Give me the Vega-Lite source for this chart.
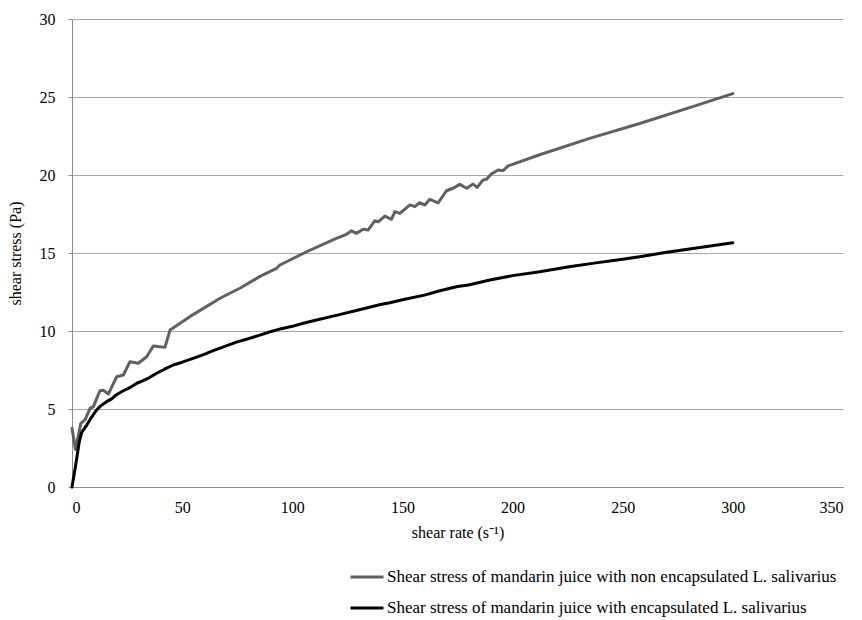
{
  "$schema": "https://vega.github.io/schema/vega-lite/v6.json",
  "autosize": "none",
  "width": 771,
  "height": 468,
  "padding": {"left": 72, "top": 19, "right": 19, "bottom": 133},
  "background": "white",
  "config": {
    "font": "Liberation Serif",
    "view": {"stroke": null},
    "axis": {"labelFont": "Liberation Serif", "titleFont": "Liberation Serif"},
    "legend": {"labelFont": "Liberation Serif", "titleFont": "Liberation Serif"}
  },
  "datasets": {
    "gray": [
      {"x": 0, "y": 3.76}, {"x": 1.6, "y": 2.4}, {"x": 4, "y": 4.08}, {"x": 5.9, "y": 4.3},
      {"x": 8.2, "y": 5.04}, {"x": 9.7, "y": 5.15}, {"x": 12.7, "y": 6.17}, {"x": 14.2, "y": 6.2},
      {"x": 16.5, "y": 5.96}, {"x": 20.3, "y": 7.07}, {"x": 23.3, "y": 7.18}, {"x": 26.3, "y": 8.03},
      {"x": 30.1, "y": 7.93}, {"x": 33.9, "y": 8.35}, {"x": 36.9, "y": 9.04}, {"x": 42.2, "y": 8.95},
      {"x": 44.5, "y": 10.06}, {"x": 55, "y": 11.05}, {"x": 67.2, "y": 12.1}, {"x": 76.2, "y": 12.74},
      {"x": 85.3, "y": 13.5}, {"x": 92.9, "y": 14.02}, {"x": 94.4, "y": 14.23}, {"x": 106.5, "y": 15.08},
      {"x": 120, "y": 15.94}, {"x": 124.6, "y": 16.2}, {"x": 126.9, "y": 16.43}, {"x": 129.1, "y": 16.26},
      {"x": 132.2, "y": 16.52}, {"x": 134.4, "y": 16.47}, {"x": 137.5, "y": 17.07}, {"x": 139, "y": 17.0},
      {"x": 142, "y": 17.37}, {"x": 145, "y": 17.16}, {"x": 146.6, "y": 17.65}, {"x": 148.8, "y": 17.54},
      {"x": 153.4, "y": 18.08}, {"x": 155.6, "y": 17.97}, {"x": 157.9, "y": 18.22}, {"x": 160.2, "y": 18.08},
      {"x": 162.4, "y": 18.44}, {"x": 166.2, "y": 18.22}, {"x": 170, "y": 18.99}, {"x": 173, "y": 19.15},
      {"x": 176, "y": 19.4}, {"x": 179.1, "y": 19.15}, {"x": 182.1, "y": 19.42}, {"x": 183.9, "y": 19.21},
      {"x": 186.6, "y": 19.68}, {"x": 188.1, "y": 19.72}, {"x": 190.4, "y": 20.06}, {"x": 193.4, "y": 20.32},
      {"x": 195.7, "y": 20.28}, {"x": 198, "y": 20.58}, {"x": 212.3, "y": 21.3}, {"x": 235, "y": 22.35},
      {"x": 257.7, "y": 23.3}, {"x": 280, "y": 24.3}, {"x": 300, "y": 25.22}
    ],
    "black": [
      {"x": 0, "y": 0}, {"x": 1.8, "y": 1.52}, {"x": 3.3, "y": 2.9}, {"x": 4.4, "y": 3.5},
      {"x": 6.7, "y": 3.97}, {"x": 9, "y": 4.5}, {"x": 11.2, "y": 4.94}, {"x": 13, "y": 5.2},
      {"x": 15.7, "y": 5.47}, {"x": 18, "y": 5.65}, {"x": 20, "y": 5.9}, {"x": 23.3, "y": 6.17},
      {"x": 26, "y": 6.35}, {"x": 29.4, "y": 6.65}, {"x": 32, "y": 6.8}, {"x": 35, "y": 7.0},
      {"x": 38.4, "y": 7.29}, {"x": 42, "y": 7.55}, {"x": 46, "y": 7.82}, {"x": 50, "y": 8.0},
      {"x": 55, "y": 8.25}, {"x": 60, "y": 8.5}, {"x": 64.1, "y": 8.74}, {"x": 70, "y": 9.05},
      {"x": 75, "y": 9.3}, {"x": 80, "y": 9.5}, {"x": 85.3, "y": 9.74}, {"x": 90, "y": 9.95},
      {"x": 95, "y": 10.15}, {"x": 100, "y": 10.3}, {"x": 105, "y": 10.5}, {"x": 111, "y": 10.7},
      {"x": 120, "y": 11.0}, {"x": 130, "y": 11.35}, {"x": 140, "y": 11.7}, {"x": 144.3, "y": 11.81},
      {"x": 150, "y": 12.0}, {"x": 160, "y": 12.3}, {"x": 167, "y": 12.58}, {"x": 175, "y": 12.85},
      {"x": 180, "y": 12.95}, {"x": 189.7, "y": 13.27}, {"x": 200, "y": 13.55}, {"x": 212.3, "y": 13.8},
      {"x": 225, "y": 14.1}, {"x": 237, "y": 14.35}, {"x": 250, "y": 14.6}, {"x": 257.7, "y": 14.76},
      {"x": 270, "y": 15.05}, {"x": 285, "y": 15.35}, {"x": 300, "y": 15.65}
    ]
  },
  "layer": [
    {
      "data": {"name": "gray"},
      "transform": [{"calculate": "'Shear stress of mandarin juice with  non encapsulated L. salivarius'", "as": "s"}],
      "mark": {"type": "line", "strokeWidth": 3, "strokeJoin": "round", "strokeCap": "round"},
      "encoding": {
        "x": {"field": "x", "type": "quantitative"},
        "y": {"field": "y", "type": "quantitative"},
        "color": {"field": "s", "type": "nominal"}
      }
    },
    {
      "data": {"name": "black"},
      "transform": [{"calculate": "'Shear stress of mandarin juice with  encapsulated L. salivarius'", "as": "s"}],
      "mark": {"type": "line", "strokeWidth": 3, "strokeJoin": "round", "strokeCap": "round"},
      "encoding": {
        "x": {"field": "x", "type": "quantitative",
          "scale": {"domain": [0, 350], "nice": false},
          "axis": {"title": "shear rate (s⁻¹)", "values": [0, 50, 100, 150, 200, 250, 300, 350],
            "grid": false, "ticks": false, "domainColor": "#8c8c8c", "labelFontSize": 16,
            "labelColor": "#000", "labelPadding": 12, "titleFontSize": 16, "titleFontWeight": "normal",
            "titleColor": "#000", "titlePadding": 9}},
        "y": {"field": "y", "type": "quantitative",
          "scale": {"domain": [0, 30], "nice": false},
          "axis": {"title": "shear stress (Pa)", "values": [0, 5, 10, 15, 20, 25, 30],
            "grid": true, "gridColor": "#a6a6a6", "ticks": true, "tickSize": 4, "tickColor": "#8c8c8c",
            "domainColor": "#8c8c8c", "labelFontSize": 16, "labelColor": "#000", "labelPadding": 13,
            "titleFontSize": 16, "titleFontWeight": "normal", "titleColor": "#000", "titlePadding": 16}},
        "color": {"field": "s", "type": "nominal",
          "scale": {"domain": ["Shear stress of mandarin juice with  non encapsulated L. salivarius", "Shear stress of mandarin juice with  encapsulated L. salivarius"],
            "range": ["#606060", "#000000"]},
          "legend": {"orient": "none", "legendX": 277, "legendY": 540, "title": null,
            "direction": "vertical", "symbolType": "stroke", "symbolSize": 1089, "symbolStrokeWidth": 3,
            "labelFontSize": 17, "labelColor": "#000", "rowPadding": 5, "labelOffset": 2, "labelLimit": 600}}
      }
    }
  ]
}
